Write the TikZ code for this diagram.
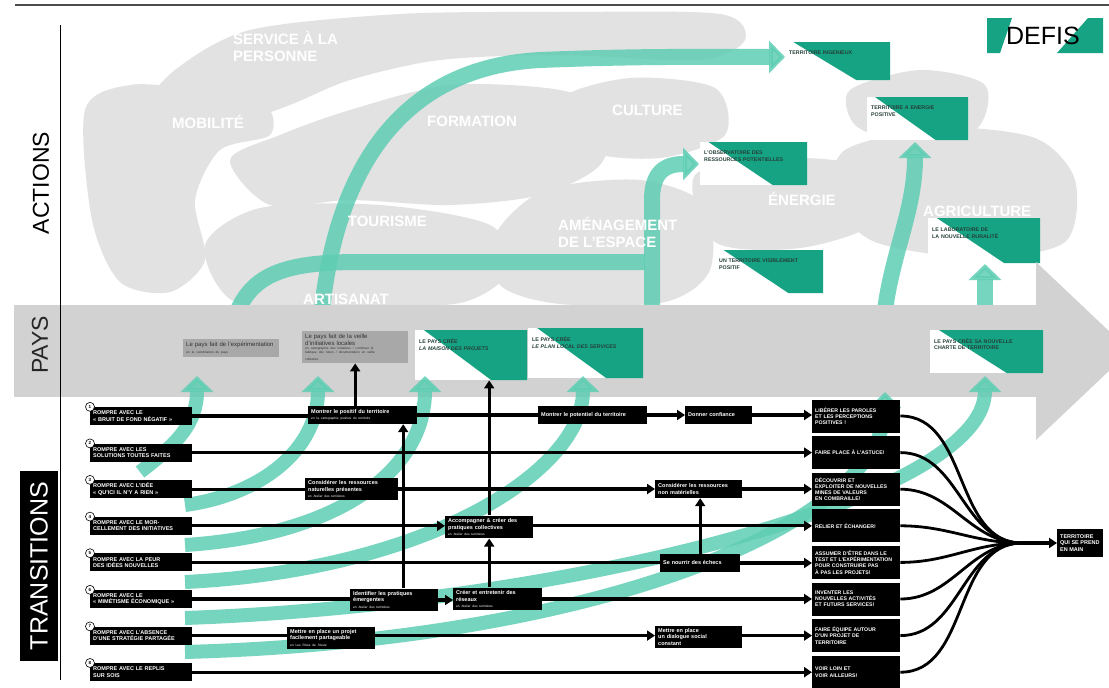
\documentclass[tikz,border=0pt]{standalone}
\usepackage{fontspec}
\setmainfont{Liberation Sans}
\usetikzlibrary{positioning,arrows.meta,calc}
\definecolor{defigreen}{HTML}{16A383}
\definecolor{flowteal}{HTML}{5FCEB4}
\definecolor{blobgrey}{HTML}{E2E2E2}
\definecolor{paysgrey}{HTML}{D2D2D2}
\definecolor{veillegrey}{HTML}{A8A8A8}
\definecolor{defiink}{HTML}{25403A}

\newcommand{\sousligne}[1]{\\{\fontsize{3.2}{3.8}\selectfont\mdseries #1}}

\begin{document}
\begin{tikzpicture}[x=1pt,y=-1pt,
    blk/.style={fill=black,text=white,align=left,inner sep=3pt,
      font=\fontsize{5.5}{6.3}\selectfont\bfseries},
    rowbox/.style={blk,anchor=west,text width=96pt,minimum height=18pt},
    goalbox/.style={blk,anchor=west,text width=82pt,minimum height=33pt,
      font=\fontsize{5.2}{6.2}\selectfont\bfseries},
    midbox/.style={blk,anchor=west,minimum height=18pt},
    numdot/.style={circle,draw,fill=white,line width=0.6pt,inner sep=0pt,
      minimum size=9pt,font=\fontsize{4.5}{5}\selectfont\bfseries},
    link/.style={line width=3.2pt},
    arr/.style={link,-{Triangle[length=8pt,width=10pt]}},
    flow/.style={draw=flowteal,line width=16pt,opacity=0.85,
      -{Triangle[length=16pt,width=32pt]}},
    blob/.style={fill=blobgrey},
    theme/.style={text=white,font=\fontsize{15}{17}\selectfont\bfseries,
      align=left,inner sep=0pt},
    defi/.style={fill=white,anchor=north west,align=left,inner sep=4pt,
      text=defiink,font=\fontsize{5.3}{6.3}\selectfont\bfseries,
      path picture={\fill[defigreen]
        ($(path picture bounding box.north west)!0.08!(path picture bounding box.north east)$)
        -- (path picture bounding box.north east)
        -- (path picture bounding box.south east)
        -- ($(path picture bounding box.south west)!0.68!(path picture bounding box.south east)$)
        -- cycle;}},
    veille/.style={fill=veillegrey,anchor=north west,align=left,inner sep=3pt,
      text=black!80,font=\fontsize{6}{7}\selectfont},
    side/.style={rotate=90,inner sep=0pt,font=\fontsize{23}{23}\selectfont}]
  \useasboundingbox (0,0) rectangle (1109,688);
  \fill[white] (0,0) rectangle (1109,688);
  \draw[line width=1.2pt,black!70] (15,5) -- (1109,5);

  % grey theme areas
  \fill[blob] plot[smooth cycle] coordinates {(140,115) (175,70) (250,30) (400,14) (560,12) (720,14) (745,40) (700,60) (560,55) (440,60) (350,80) (290,105) (230,125) (170,130)};
  \fill[blob] plot[smooth cycle] coordinates {(85,110) (130,85) (200,90) (265,105) (270,135) (220,150) (195,200) (205,260) (170,292) (120,282) (92,220)};
  \fill[blob] plot[smooth cycle] coordinates {(230,160) (280,135) (350,110) (450,85) (560,90) (610,115) (600,165) (540,195) (450,205) (350,200) (270,205)};
  \fill[blob] plot[smooth cycle] coordinates {(205,245) (260,208) (380,205) (490,225) (510,270) (460,303) (340,306) (235,302)};
  \fill[blob] plot[smooth cycle] coordinates {(560,100) (630,78) (715,88) (725,135) (660,158) (585,150)};
  \fill[blob] plot[smooth cycle] coordinates {(495,235) (545,190) (640,180) (705,205) (710,270) (665,302) (560,304) (500,285)};
  \fill[blob] plot[smooth cycle] coordinates {(695,175) (780,158) (865,168) (875,222) (800,248) (715,242)};
  \fill[blob] plot[smooth cycle] coordinates {(845,150) (940,128) (1035,138) (1075,180) (1065,242) (980,258) (875,242) (835,200)};
  \fill[blob] plot[smooth cycle] coordinates {(850,90) (920,70) (985,85) (975,130) (900,140) (855,125)};

  % swooshes towards the defis
  \draw[flow,-] (238,310) .. controls (255,272) and (290,262) .. (360,262) -- (645,262);
  \draw[flow] (322,310) .. controls (335,185) and (390,68) .. (540,60) .. controls (640,56) and (700,57) .. (785,57);
  \draw[flow] (652,310) -- (652,200) .. controls (652,172) and (665,164) .. (699,164);
  \draw[flow] (885,310) .. controls (893,250) and (915,210) .. (915,142);
  \draw[flow] (985,310) -- (985,264);

  % themes
  \node[theme,anchor=north west] (service) at (233,31) {SERVICE À LA\\PERSONNE};
  \node[theme,anchor=west] (mobilite) at (172,122) {MOBILITÉ};
  \node[theme,anchor=west] (formation) at (427,121) {FORMATION};
  \node[theme,anchor=west] (culture) at (612,110) {CULTURE};
  \node[theme,anchor=east] (tourisme) at (427,221) {TOURISME};
  \node[theme,anchor=west] (artisanat) at (303,299) {ARTISANAT};
  \node[theme,anchor=north west] (amenag) at (558,217) {AMÉNAGEMENT\\DE L'ESPACE};
  \node[theme,anchor=west] (energie) at (768,199) {ÉNERGIE};
  \node[theme,anchor=west] (agri) at (923,211) {AGRICULTURE};

  % defis
  \node[defi,minimum width=105pt,minimum height=38pt,text width=97pt] (ingenieux) at (785,42) {TERRITOIRE INGENIEUX\\\rule{0pt}{16pt}};
  \node[defi,minimum width=101pt,minimum height=43pt,text width=93pt] (enpos) at (867,97) {TERRITOIRE A ENERGIE\\POSITIVE\\\rule{0pt}{14pt}};
  \node[defi,minimum width=107pt,minimum height=43pt,text width=99pt] (observ) at (700,142) {L'OBSERVATOIRE DES\\RESSOURCES POTENTIELLES\\\rule{0pt}{14pt}};
  \node[defi,minimum width=108pt,minimum height=43pt,text width=100pt] (visible) at (715,250) {UN TERRITOIRE VISIBLEMENT\\POSITIF\\\rule{0pt}{14pt}};
  \node[defi,minimum width=112pt,minimum height=45pt,text width=104pt] (labo) at (928,218) {LE LABORATOIRE DE\\LA NOUVELLE RURALITÉ\\\rule{0pt}{14pt}};

  % pays band
  \fill[paysgrey] (14,305) rectangle (1040,397);
  \fill[paysgrey] (1036,262) -- (1130,351) -- (1036,440) -- cycle;
  \node[side,text=black!85] (paystitle) at (40,345) {PAYS};
  \node[veille,text width=90pt] (expe) at (183,339) {Le pays fait de l'expérimentation\sousligne{en la coordination du pays}};
  \node[veille,text width=100pt] (veille) at (302,331) {Le pays fait de la veille\\d'initiatives locales\sousligne{en cartographie des initiatives / continuer la\\fabrique des futurs / documentation en veille\\collective}};
  \node[defi,minimum width=112pt,minimum height=50pt,text width=104pt] (maison) at (415,330) {LE PAYS CRÉE\\\textit{LA MAISON DES PROJETS}\\\rule{0pt}{20pt}};
  \node[defi,minimum width=115pt,minimum height=50pt,text width=107pt] (plan) at (528,328) {LE PAYS CRÉE\\\textit{LE PLAN LOCAL DES SERVICES}\\\rule{0pt}{20pt}};
  \node[defi,minimum width=113pt,minimum height=43pt,text width=105pt] (charte) at (930,330) {LE PAYS CRÉE SA NOUVELLE\\CHARTE DE TERRITOIRE\\\rule{0pt}{14pt}};

  % swooshes from the transitions
  \draw[flow,line width=14pt] (140,472) .. controls (175,445) and (197,425) .. (197,376);
  \draw[flow,line width=14pt] (185,505) .. controls (260,495) and (318,450) .. (318,376);
  \draw[flow,line width=14pt] (185,545) .. controls (340,535) and (425,470) .. (425,376);
  \draw[flow,line width=14pt] (185,582) .. controls (430,570) and (583,470) .. (583,376);
  \draw[flow,line width=14pt] (185,618) .. controls (560,605) and (985,500) .. (985,376);
  \draw[flow,line width=14pt] (185,652) .. controls (610,640) and (885,520) .. (885,392);

  \draw[line width=0.8pt] (60,25) -- (60,680);
  \node[side] (actions) at (41,183) {ACTIONS};
  \node[side,fill=black,text=white,minimum width=190pt,minimum height=38pt,
    font=\fontsize{25}{25}\selectfont] (trans) at (39,566) {TRANSITIONS};

  % ruptures and goals
  \foreach \i/\ltxt/\rtxt in {
      1/{ROMPRE AVEC LE\\« BRUIT DE FOND NÉGATIF »}/{LIBÉRER LES PAROLES\\ET LES PERCEPTIONS\\POSITIVES !},
      2/{ROMPRE AVEC LES\\SOLUTIONS TOUTES FAITES}/{FAIRE PLACE À L'ASTUCE!},
      3/{ROMPRE AVEC L'IDÉE\\« QU'ICI IL N'Y A RIEN »}/{DÉCOUVRIR ET\\EXPLOITER DE NOUVELLES\\MINES DE VALEURS\\EN COMBRAILLE!},
      4/{ROMPRE AVEC LE MOR-\\CELLEMENT DES INITIATIVES}/{RELIER ET ÉCHANGER!},
      5/{ROMPRE AVEC LA PEUR\\DES IDÉES NOUVELLES}/{ASSUMER D'ÊTRE DANS LE\\TEST ET L'EXPÉRIMENTATION\\POUR CONSTRUIRE PAS\\À PAS LES PROJETS!},
      6/{ROMPRE AVEC LE\\« MIMÉTISME ÉCONOMIQUE »}/{INVENTER LES\\NOUVELLES ACTIVITÉS\\ET FUTURS SERVICES!},
      7/{ROMPRE AVEC L'ABSENCE\\D'UNE STRATÉGIE PARTAGÉE}/{FAIRE ÉQUIPE AUTOUR\\D'UN PROJET DE\\TERRITOIRE},
      8/{ROMPRE AVEC LE REPLIS\\SUR SOIS}/{VOIR LOIN ET\\VOIR AILLEURS!}}{
    \node[rowbox] (L\i) at (90,{416+36.6*(\i-1)}) {\ltxt};
    \node[goalbox] (R\i) at (812,{416+36.6*(\i-1)}) {\rtxt};
    \node[numdot] (n\i) at (L\i.north west) {\i};
  }

  % intermediate steps
  \node[midbox,text width=103pt] (positif) at (308,415) {Montrer le positif du territoire\sousligne{en la cartographie positive du territoire}};
  \node[midbox,text width=103pt] (potentiel) at (538,415) {Montrer le potentiel du territoire};
  \node[midbox,text width=61pt] (confiance) at (685,415) {Donner confiance};
  \node[midbox,text width=87pt] (naturelles) at (305,489) {Considérer les ressources\\naturelles présentes\sousligne{en Atelier des territoires}};
  \node[midbox,text width=81pt] (nonmat) at (655,489) {Considérer les ressources\\non matérielles};
  \node[midbox,text width=82pt] (accomp) at (445,527) {Accompagner \& créer des\\pratiques collectives\sousligne{en Atelier des territoires}};
  \node[midbox,text width=74pt] (echecs) at (660,563) {Se nourrir des échecs};
  \node[midbox,text width=82pt] (identifier) at (350,600) {Identifier les pratiques\\émergentes\sousligne{en Atelier des territoires}};
  \node[midbox,text width=83pt] (creer) at (453,599) {Créer et entretenir des\\réseaux\sousligne{en Atelier des territoires}};
  \node[midbox,text width=82pt] (partage) at (287,638) {Mettre en place un projet\\facilement partageable\sousligne{en Les Rives de Sioule}};
  \node[midbox,text width=81pt] (dialogue) at (655,637) {Mettre en place\\un dialogue social\\constant};

  % row links
  \draw[link] (L1.east) -- (L1.east -| positif.west);
  \draw[link] (positif.east) -- (positif.east -| potentiel.west);
  \draw[arr] (potentiel.east) -- (potentiel.east -| confiance.west);
  \draw[arr] (confiance.east) -- (confiance.east -| R1.west);
  \draw[arr] (L2.east) -- (L2.east -| R2.west);
  \draw[link] (L3.east) -- (L3.east -| naturelles.west);
  \draw[arr] (naturelles.east) -- (naturelles.east -| nonmat.west);
  \draw[arr] (nonmat.east) -- (nonmat.east -| R3.west);
  \draw[arr] (L4.east) -- (L4.east -| accomp.west);
  \draw[arr] (accomp.east |- L4.east) -- (L4.east -| R4.west);
  \draw[link] (L5.east) -- (L5.east -| echecs.west);
  \draw[arr] (echecs.east) -- (echecs.east -| R5.west);
  \draw[link] (L6.east) -- (L6.east -| identifier.west);
  \draw[arr] (identifier.east) -- (identifier.east -| creer.west);
  \draw[arr] (creer.east |- L6.east) -- (L6.east -| R6.west);
  \draw[link] (L7.east) -- (L7.east -| partage.west);
  \draw[arr] (partage.east |- L7.east) -- (L7.east -| dialogue.west);
  \draw[arr] (dialogue.east |- L7.east) -- (L7.east -| R7.west);
  \draw[arr] (L8.east) -- (L8.east -| R8.west);

  % vertical links
  \draw[arr] ([xshift=9pt]identifier.north) -- ([xshift=9pt]identifier.north |- positif.south);
  \draw[arr] (creer.north -| accomp.south) -- (accomp.south);
  \draw[arr] (echecs.north) -- (echecs.north |- nonmat.south);
  \draw[arr] (veille.south |- positif.north) -- (veille.south);
  \draw[arr] (accomp.north) -- (accomp.north |- maison.south);

  % convergence
  \coordinate (hub) at (1022,543);
  \foreach \i in {1,...,8}{
    \draw[line width=2.8pt] (R\i.east) to[out=0,in=180] (hub);
  }
  \node[blk,anchor=west,minimum height=28pt] (fin) at (1057,543) {TERRITOIRE\\QUI SE PREND\\EN MAIN};
  \draw[arr] (hub) -- (fin.west);

  % header
  \fill[defigreen] (987,18) -- (1012,18) -- (1000,53) -- (987,53) -- cycle;
  \fill[defigreen] (1088,18) -- (1103,18) -- (1103,53) -- (1057,53) -- cycle;
  \node[font=\fontsize{25}{25}\selectfont,inner sep=0pt] (defis) at (1043,36) {DEFIS};
\end{tikzpicture}
\end{document}
